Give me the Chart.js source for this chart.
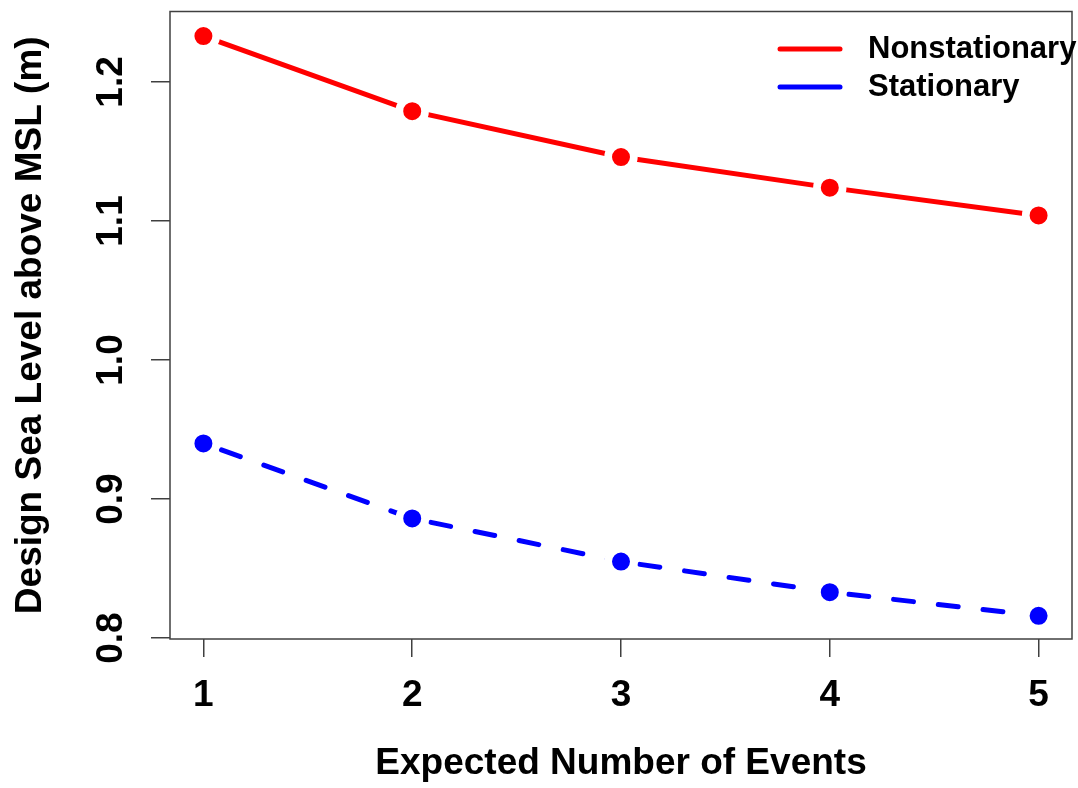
<!DOCTYPE html>
<html>
<head>
<meta charset="utf-8">
<script src="https://cdn.jsdelivr.net/npm/chart.js@4/dist/chart.umd.min.js"></script>
<style>
  html, body { margin: 0; padding: 0; background: #fff; }
  #wrap { width: 1078px; height: 788px; }
</style>
</head>
<body>
<div id="wrap"><canvas id="c" width="1078" height="788"></canvas></div>
<script>
// Design sea level by expected number of exceedance events
const expectedEvents = [1, 2, 3, 4, 5];
const nonstationaryLevels = [1.233, 1.179, 1.146, 1.124, 1.104];
const stationaryLevels = [0.940, 0.886, 0.855, 0.833, 0.816];
const xTickLabels = ['1', '2', '3', '4', '5'];
const yTickValues = [0.8, 0.9, 1.0, 1.1, 1.2];
const yTickLabels = ['0.8', '0.9', '1.0', '1.1', '1.2'];
const seriesNames = ['Nonstationary', 'Stationary'];
const seriesColors = ['#ff0000', '#0000ff'];

const FONT = '"Liberation Sans", Arial, Helvetica, sans-serif';
const AXIS_GREY = '#404040';

// R-style "b" points: a white ring around each dot leaves a gap in the line
const pointStyle = (color) => ({
  pointRadius: 12.85,
  pointHoverRadius: 12.85,
  pointBorderWidth: 7.7,
  pointHoverBorderWidth: 7.7,
  pointBackgroundColor: color,
  pointBorderColor: '#ffffff',
  pointHoverBackgroundColor: color,
  pointHoverBorderColor: '#ffffff'
});

const boxPlugin = {
  id: 'plotBox',
  beforeDatasetsDraw(chart) {
    const { ctx, chartArea: a } = chart;
    ctx.save();
    ctx.strokeStyle = AXIS_GREY;
    ctx.lineWidth = 1.5;
    ctx.strokeRect(a.left, a.top, a.right - a.left, a.bottom - a.top);
    ctx.restore();
  }
};

const legendPlugin = {
  id: 'insetLegend',
  afterDraw(chart) {
    const { ctx, chartArea: a } = chart;
    const x0 = a.right - 292, x1 = a.right - 232, tx = a.right - 204;
    const rows = [a.top + 37.5, a.top + 75.5];
    ctx.save();
    ctx.lineWidth = 5;
    ctx.lineCap = 'round';
    ctx.font = 'bold 31px ' + FONT;
    ctx.textBaseline = 'middle';
    ctx.textAlign = 'left';
    seriesNames.forEach((name, i) => {
      ctx.strokeStyle = seriesColors[i];
      ctx.beginPath();
      ctx.moveTo(x0, rows[i]);
      ctx.lineTo(x1, rows[i]);
      ctx.stroke();
      ctx.fillStyle = '#000';
      ctx.fillText(name, tx, rows[i]);
    });
    ctx.restore();
  }
};

const tickFont = { family: FONT, size: 37, weight: 'bold' };

new Chart(document.getElementById('c'), {
  type: 'line',
  data: {
    datasets: [
      {
        label: seriesNames[0],
        data: expectedEvents.map((x, i) => ({ x, y: nonstationaryLevels[i] })),
        borderColor: seriesColors[0],
        borderWidth: 5,
        borderCapStyle: 'round',
        fill: false,
        tension: 0,
        clip: false,
        ...pointStyle(seriesColors[0])
      },
      {
        label: seriesNames[1],
        data: expectedEvents.map((x, i) => ({ x, y: stationaryLevels[i] })),
        borderColor: seriesColors[1],
        borderWidth: 5,
        borderCapStyle: 'round',
        borderDash: [20, 25],
        fill: false,
        tension: 0,
        clip: false,
        // restart the dash pattern after each point gap
        segment: { borderDashOffset: (c) => -19.2 - c.p0DataIndex * 0.0001 },
        ...pointStyle(seriesColors[1])
      }
    ]
  },
  options: {
    responsive: false,
    devicePixelRatio: 1,
    animation: false,
    layout: { autoPadding: false, padding: { left: 0, top: 11.5, right: 6, bottom: 0 } },
    plugins: { legend: { display: false }, tooltip: { enabled: false } },
    scales: {
      x: {
        type: 'linear',
        min: 0.84,
        max: 5.16,
        afterBuildTicks: (s) => { s.ticks = expectedEvents.map((v) => ({ value: v })); },
        afterFit: (s) => { s.height = 149; s.paddingLeft = 0; s.paddingRight = 0; },
        grid: { drawOnChartArea: false, drawTicks: true, tickLength: 18, color: AXIS_GREY, lineWidth: 1.5 },
        border: { display: false },
        ticks: {
          autoSkip: false, maxRotation: 0, minRotation: 0, padding: 17,
          color: '#000', font: tickFont,
          callback: (v) => xTickLabels[expectedEvents.indexOf(v)]
        },
        title: {
          display: true, text: 'Expected Number of Events', color: '#000',
          font: tickFont, padding: { top: 0, bottom: 2 }
        }
      },
      y: {
        type: 'linear',
        min: 0.7993,
        max: 1.2507,
        afterBuildTicks: (s) => { s.ticks = yTickValues.map((v) => ({ value: v })); },
        afterFit: (s) => { s.width = 170; s.paddingTop = 0; s.paddingBottom = 0; },
        grid: { drawOnChartArea: false, drawTicks: true, tickLength: 19, color: AXIS_GREY, lineWidth: 1.5 },
        border: { display: false },
        ticks: {
          autoSkip: false, minRotation: 90, maxRotation: 90, crossAlign: 'center', padding: 13,
          color: '#000', font: tickFont,
          callback: (v) => yTickLabels[yTickValues.findIndex((t) => Math.abs(t - v) < 1e-9)]
        },
        title: {
          display: true, text: 'Design Sea Level above MSL (m)', color: '#000',
          font: tickFont, padding: { top: 9, bottom: 0 }
        }
      }
    }
  },
  plugins: [boxPlugin, legendPlugin]
});
</script>
</body>
</html>
